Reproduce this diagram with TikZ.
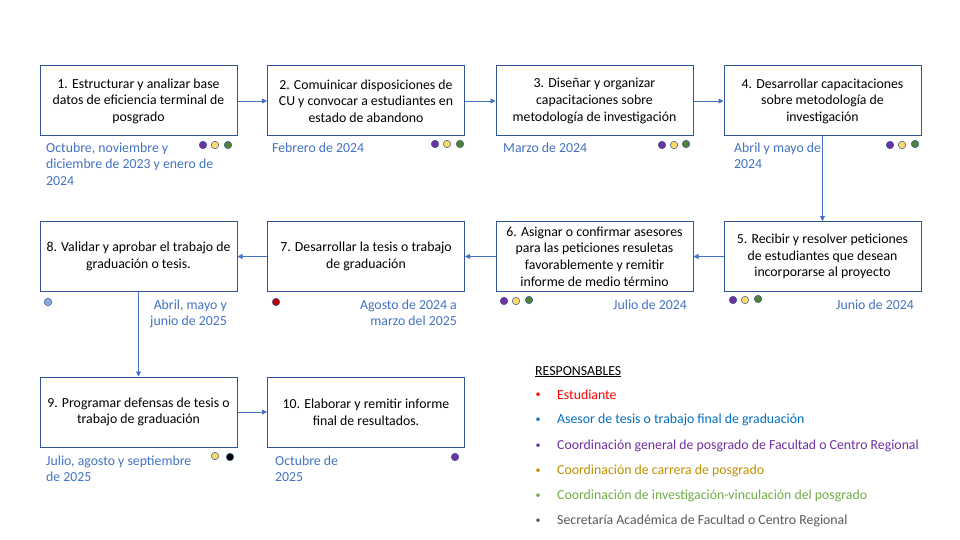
\documentclass[tikz,border=0pt]{standalone}
\usepackage{fontspec}
\setmainfont{Carlito}
\usetikzlibrary{arrows.meta}
\definecolor{boxc}{HTML}{2F5597}
\definecolor{arrc}{HTML}{4472C4}
\definecolor{datec}{HTML}{4472C4}
\definecolor{cpurp}{HTML}{7030A0}
\definecolor{cyell}{HTML}{FFD966}
\definecolor{cgreen}{HTML}{548235}
\definecolor{cred}{HTML}{C00000}
\definecolor{clblue}{HTML}{8FAADC}
\definecolor{lred}{HTML}{FF0000}
\definecolor{lblue}{HTML}{0070C0}
\definecolor{lpurp}{HTML}{7030A0}
\definecolor{lgold}{HTML}{BF9000}
\definecolor{lgreen}{HTML}{70AD47}
\definecolor{lgray}{HTML}{595959}
\begin{document}
\begin{tikzpicture}[x=1pt,y=-1pt,font=\fontsize{13.8}{16.6}\selectfont]
\tikzset{
  stepbox/.style={draw=boxc,line width=1pt,minimum width=197pt,minimum height=70pt,align=center,inner sep=0pt,text=black},
  arr/.style={draw=arrc,line width=0.8pt,-{Triangle[length=5pt,width=5pt]}},
  dot/.style={circle,draw=boxc,line width=0.5pt,minimum size=7.5pt,inner sep=0pt},
  datel/.style={text=datec,inner sep=0pt,align=left,anchor=north west,font=\fontsize{13.8}{16.2}\selectfont},
  dater/.style={text=datec,inner sep=0pt,align=right,anchor=north east,font=\fontsize{13.8}{16.2}\selectfont},
  legt/.style={inner sep=0pt,anchor=west},
  bul/.style={inner sep=0pt,font=\fontsize{10}{12}\selectfont},
}
\useasboundingbox (0,0) rectangle (960,540);
\fill[white] (0,0) rectangle (960,540);
% boxes
\node[stepbox] (b1) at (138.5,101) {1. Estructurar y analizar base\\datos de eficiencia terminal de\\posgrado};
\node[stepbox] (b2) at (366,101) {2. Comuinicar disposiciones de\\CU y convocar a estudiantes en\\estado de abandono};
\node[stepbox] (b3) at (594.5,101) {3. Diseñar y organizar\\capacitaciones sobre\\metodología de investigación};
\node[stepbox] (b4) at (822.5,101) {4. Desarrollar capacitaciones\\sobre metodología de\\investigación};
\node[stepbox] (b5) at (822.5,256.5) {5. Recibir y resolver peticiones\\de estudiantes que desean\\incorporarse al proyecto};
\node[stepbox] (b6) at (594.5,256.5) {6. Asignar o confirmar asesores\\para las peticiones resuletas\\favorablemente y remitir\\informe de medio término};
\node[stepbox] (b7) at (366,256.5) {7. Desarrollar la tesis o trabajo\\de graduación};
\node[stepbox] (b8) at (138.5,256.5) {8. Validar y aprobar el trabajo de\\graduación o tesis.};
\node[stepbox] (b9) at (138.5,412) {9. Programar defensas de tesis o\\trabajo de graduación};
\node[stepbox] (b10) at (366,412) {10. Elaborar y remitir informe\\final de resultados.};
% arrows
\draw[arr] (b1) -- (b2);
\draw[arr] (b2) -- (b3);
\draw[arr] (b3) -- (b4);
\draw[arr] (b4) -- (b5);
\draw[arr] (b5) -- (b6);
\draw[arr] (b6) -- (b7);
\draw[arr] (b7) -- (b8);
\draw[arr] (b8) -- (b9);
\draw[arr] (b9) -- (b10);
% dates
\node[datel] (t1) at (46,143) {Octubre, noviembre y\\diciembre de 2023 y enero de\\2024};
\node[datel] (t2) at (272,143) {Febrero de 2024};
\node[datel] (t3) at (503,143) {Marzo de 2024};
\node[datel] (t4) at (734,143) {Abril y mayo de\\2024};
\node[dater] (t5) at (914,300) {Junio de 2024};
\node[dater] (t6) at (687,300) {Julio de 2024};
\node[dater] (t7) at (457,300) {Agosto de 2024 a\\marzo del 2025};
\node[dater] (t8) at (227,300) {Abril, mayo y\\junio de 2025};
\node[datel] (t9) at (46,456) {Julio, agosto y septiembre\\de 2025};
\node[datel] (t10) at (275,456) {Octubre de\\2025};
% dots
\node[dot,fill=cpurp] (d1a) at (203,145) {};
\node[dot,fill=cyell] (d1b) at (215,145) {};
\node[dot,fill=cgreen] (d1c) at (228,145) {};
\node[dot,fill=cpurp] (d2a) at (435,144) {};
\node[dot,fill=cyell] (d2b) at (447,144) {};
\node[dot,fill=cgreen] (d2c) at (460,144) {};
\node[dot,fill=cpurp] (d3a) at (662,145) {};
\node[dot,fill=cyell] (d3b) at (674,145) {};
\node[dot,fill=cgreen] (d3c) at (686,144) {};
\node[dot,fill=cpurp] (d4a) at (890,145) {};
\node[dot,fill=cyell] (d4b) at (902,145) {};
\node[dot,fill=cgreen] (d4c) at (915,144) {};
\node[dot,fill=cpurp] (d5a) at (733,300) {};
\node[dot,fill=cyell] (d5b) at (745,300) {};
\node[dot,fill=cgreen] (d5c) at (758,299) {};
\node[dot,fill=cpurp] (d6a) at (504,301) {};
\node[dot,fill=cyell] (d6b) at (516,301) {};
\node[dot,fill=cgreen] (d6c) at (529,300) {};
\node[dot,fill=cred] (d7a) at (276,302) {};
\node[dot,fill=clblue] (d8a) at (48,302) {};
\node[dot,fill=cyell] (d9a) at (215,456) {};
\node[dot,fill=black] (d9b) at (230,457) {};
\node[dot,fill=cpurp] (d10a) at (455,457) {};
% legend
\node[legt,anchor=north west] (lh) at (535,366) {\underline{RESPONSABLES}};
\node[bul,text=lred] (lb1) at (538,395) {•};
\node[legt,text=lred] (l1) at (557,395) {Estudiante};
\node[bul,text=lblue] (lb2) at (538,420) {•};
\node[legt,text=lblue] (l2) at (557,420) {Asesor de tesis o trabajo final de graduación};
\node[bul,text=lpurp] (lb3) at (538,446) {•};
\node[legt,text=lpurp] (l3) at (557,446) {Coordinación general de posgrado de Facultad o Centro Regional};
\node[bul,text=lgold] (lb4) at (538,471) {•};
\node[legt,text=lgold] (l4) at (557,471) {Coordinación de carrera de posgrado};
\node[bul,text=lgreen] (lb5) at (538,496) {•};
\node[legt,text=lgreen] (l5) at (557,496) {Coordinación de investigación-vinculación del posgrado};
\node[bul,text=lgray] (lb6) at (538,521) {•};
\node[legt,text=lgray] (l6) at (557,521) {Secretaría Académica de Facultad o Centro Regional};
\end{tikzpicture}
\end{document}
